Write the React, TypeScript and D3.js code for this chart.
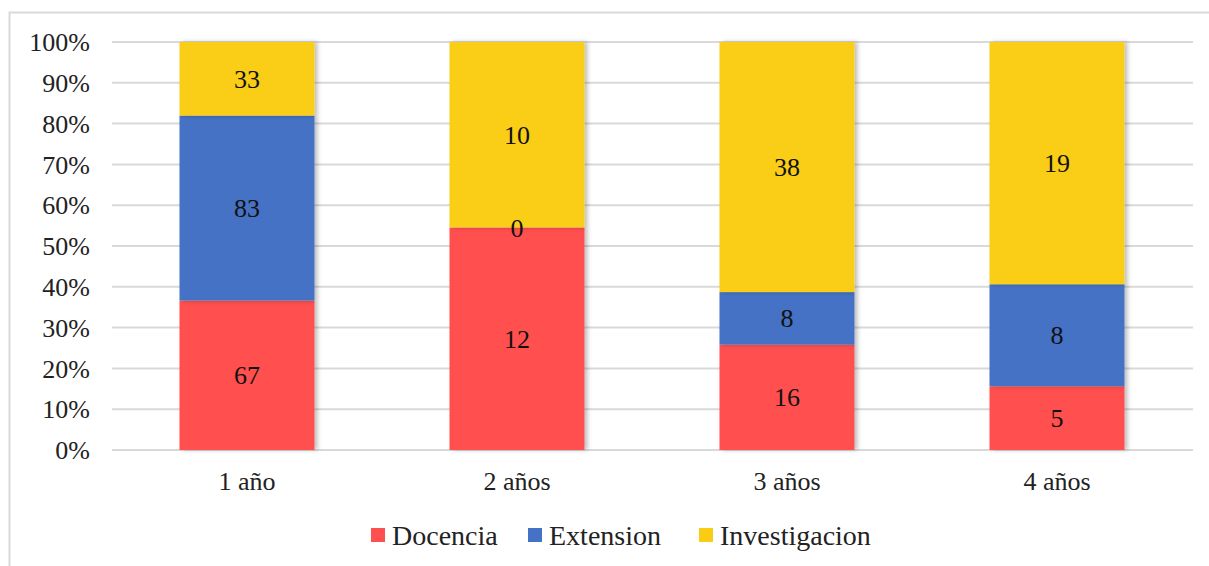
import React from "react";
import * as d3 from "d3";

const categories = ["1 año", "2 años", "3 años", "4 años"];
const seriesNames = ["Docencia", "Extension", "Investigacion"];
const docencia = [67, 12, 16, 5];
const extension = [83, 0, 8, 8];
const investigacion = [33, 10, 38, 19];
const seriesColors = ["#FF5050", "#4472C4", "#FACD14"];
const yTicks = [0, 0.1, 0.2, 0.3, 0.4, 0.5, 0.6, 0.7, 0.8, 0.9, 1];

const W = 1209;
const H = 566;

export default function App() {
  const x = d3.scaleBand<string>().domain(categories).range([112, 1192]).paddingInner(0.5).paddingOuter(0.25);
  const y = d3.scaleLinear().domain([0, 1]).range([450, 42]);
  const rows = categories.map((c, i) => ({ cat: c, Docencia: docencia[i], Extension: extension[i], Investigacion: investigacion[i] }));
  const stacked = d3.stack<any>().keys(seriesNames).offset(d3.stackOffsetExpand)(rows);
  const font = "'Liberation Serif', 'Times New Roman', serif";

  const legendItems = [
    { name: seriesNames[0], x: 371 },
    { name: seriesNames[1], x: 528 },
    { name: seriesNames[2], x: 699 },
  ];

  return (
    <svg width={W} height={H} style={{ position: "absolute", left: 0, top: 0, background: "#fff", fontFamily: font }}>
      <defs>
        <filter id="sh" x="-10%" y="-10%" width="130%" height="120%">
          <feDropShadow dx="3" dy="0" stdDeviation="2" floodColor="#000" floodOpacity="0.25" />
        </filter>
      </defs>
      <rect x={9.5} y={12.5} width={1260} height={600} fill="#fff" stroke="#d9d9d9" strokeWidth={2} />
      {yTicks.map((t) => (
        <g key={t}>
          <line x1={112} x2={1193} y1={y(t)} y2={y(t)} stroke="#d9d9d9" strokeWidth={2} />
          <text x={90} y={y(t)} dy="0.35em" textAnchor="end" fontSize={26} fill="#222" fontFamily={font}>
            {d3.format(".0%")(t)}
          </text>
        </g>
      ))}
      {stacked.map((s, si) => (
        <g key={s.key} fill={seriesColors[si]}>
          {s.map((d, i) => (
            <rect key={i} x={x(categories[i])} width={x.bandwidth()} y={y(d[1])} height={y(d[0]) - y(d[1])} filter="url(#sh)" />
          ))}
        </g>
      ))}
      {stacked.map((s) => (
        <g key={s.key + "l"}>
          {s.map((d, i) => (
            <text key={i} x={(x(categories[i]) as number) + x.bandwidth() / 2} y={(y(d[0]) + y(d[1])) / 2} dy="0.35em" textAnchor="middle" fontSize={26} fill="#111" fontFamily={font}>
              {(d.data as any)[s.key]}
            </text>
          ))}
        </g>
      ))}
      {categories.map((c) => (
        <text key={c} x={(x(c) as number) + x.bandwidth() / 2} y={481} dy="0.35em" textAnchor="middle" fontSize={26} fill="#222" fontFamily={font}>
          {c}
        </text>
      ))}
      {legendItems.map((l, i) => (
        <g key={l.name}>
          <rect x={l.x} y={528} width={14} height={14} fill={seriesColors[i]} />
          <text x={l.x + 21} y={535} dy="0.35em" fontSize={28} fill="#222" fontFamily={font}>
            {l.name}
          </text>
        </g>
      ))}
    </svg>
  );
}
